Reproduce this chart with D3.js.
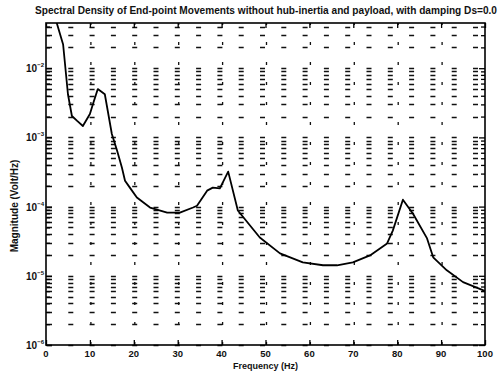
<!DOCTYPE html>
<html>
<head>
<meta charset="utf-8">
<script src="https://cdn.jsdelivr.net/npm/d3@7"></script>
<style>
  html, body { margin: 0; padding: 0; background: #fff; }
  svg { display: block; }
  text { font-family: "Liberation Sans", Arial, sans-serif; fill: #111; }
</style>
</head>
<body>
<svg id="chart" width="502" height="380"></svg>
<script>
// Spectral density of the end-point movement (no hub inertia, no payload, Ds = 0.0)
const freq = [1.5, 2.5, 3.9, 5.0, 5.9, 7.1, 8.4, 10.0, 10.7, 11.8, 13.4, 15.0, 16.2, 17.3,
  18.0, 19.1, 20.7, 23.7, 27.6, 30.5, 33.5, 34.4, 36.7, 38.0, 39.6, 41.5, 43.7, 48.7,
  53.3, 58.5, 63.1, 66.3, 69.9, 73.8, 77.7, 79.0, 81.3, 83.6, 86.8, 88.2, 91.3, 95.0,
  99.5, 100];
const magnitude = [6.0e-2, 4.4e-2, 2.2e-2, 4.2e-3, 2.04e-3, 1.73e-3, 1.46e-3, 2.18e-3,
  3.03e-3, 4.99e-3, 4.2e-3, 1.12e-3, 6.4e-4, 3.64e-4, 2.37e-4, 1.88e-4, 1.35e-4, 9.7e-5,
  8.2e-5, 8.2e-5, 9.7e-5, 1.03e-4, 1.70e-4, 1.88e-4, 1.83e-4, 3.2e-4, 8.8e-5, 3.58e-5,
  2.11e-5, 1.56e-5, 1.42e-5, 1.42e-5, 1.56e-5, 1.97e-5, 2.94e-5, 4.5e-5, 1.26e-4,
  7.9e-5, 3.47e-5, 1.85e-5, 1.2e-5, 8.1e-6, 6.2e-6, 6.0e-6];

const xTicks = [0, 10, 20, 30, 40, 50, 60, 70, 80, 90, 100];
const yDecadeExponents = [-6, -5, -4, -3, -2];
const yLimits = [1e-6, 4.5e-2];
const xLimits = [0, 100];

const titleText = "Spectral Density of End-point Movements without hub-inertia and payload, with damping Ds=0.0";
const xLabel = "Frequency (Hz)";
const yLabel = "Magnitude (Volt/Hz)";

const svg = d3.select("#chart");
const plotL = 46, plotR = 485, plotT = 23, plotB = 345;

const x = d3.scaleLinear().domain(xLimits).range([plotL, plotR]);
const y = d3.scaleLog().domain(yLimits).range([plotB, plotT]);

// every major and minor log tick inside the axis limits
const yAll = [];
yDecadeExponents.forEach(e => {
  for (let m = 1; m <= 9; m++) {
    const v = m * Math.pow(10, e);
    if (v >= yLimits[0] * 0.999 && v <= yLimits[1]) yAll.push(v);
  }
});
const yMajor = yDecadeExponents.map(e => Math.pow(10, e));
const yMinor = yAll.filter(v => !yMajor.some(m => Math.abs(m - v) / m < 1e-9));

// dotted grid: horizontal at every log tick, vertical at x ticks
const grid = svg.append("g").attr("stroke", "#111").attr("fill", "none");
grid.selectAll("line.h").data(yAll).join("line")
  .attr("class", "h")
  .attr("x1", plotL + 1).attr("x2", plotR)
  .attr("y1", d => Math.round(y(d)) + 0.5).attr("y2", d => Math.round(y(d)) + 0.5)
  .attr("stroke-width", 1.6)
  .attr("stroke-dasharray", "5,16.3");
grid.selectAll("line.v").data(xTicks.slice(1, -1)).join("line")
  .attr("class", "v")
  .attr("x1", d => x(d) + 1).attr("x2", d => x(d) + 1)
  .attr("y1", plotB).attr("y2", plotT)
  .attr("stroke-width", 1.3)
  .attr("stroke-dasharray", "3,17");

// spectrum curve, clipped to the plot box
svg.append("clipPath").attr("id", "plotClip")
  .append("rect").attr("x", plotL).attr("y", plotT).attr("width", plotR - plotL).attr("height", plotB - plotT);
const line = d3.line().x((d, i) => x(freq[i])).y(d => y(d));
svg.append("path")
  .attr("clip-path", "url(#plotClip)")
  .attr("d", line(magnitude))
  .attr("fill", "none")
  .attr("stroke", "#000")
  .attr("stroke-width", 1.8)
  .attr("stroke-linejoin", "round");

// axes with inward ticks
const axisStyle = g => {
  g.select(".domain").remove();
  g.selectAll(".tick line").attr("stroke", "#000").attr("stroke-width", 1.3);
  g.selectAll(".tick text").remove();
};
svg.append("g").attr("transform", `translate(0,${plotB})`)
  .call(d3.axisBottom(x).tickValues(xTicks).tickSize(-5)).call(axisStyle);
svg.append("g").attr("transform", `translate(0,${plotT})`)
  .call(d3.axisTop(x).tickValues(xTicks).tickSize(-5)).call(axisStyle);
svg.append("g").attr("transform", `translate(${plotL},0)`)
  .call(d3.axisLeft(y).tickValues(yMajor).tickSize(-6)).call(axisStyle);
svg.append("g").attr("transform", `translate(${plotL},0)`)
  .call(d3.axisLeft(y).tickValues(yMinor).tickSize(-4)).call(axisStyle);
svg.append("g").attr("transform", `translate(${plotR},0)`)
  .call(d3.axisRight(y).tickValues(yMajor).tickSize(-6)).call(axisStyle);
svg.append("g").attr("transform", `translate(${plotR},0)`)
  .call(d3.axisRight(y).tickValues(yMinor).tickSize(-4)).call(axisStyle);

// plot box
svg.append("rect")
  .attr("x", plotL).attr("y", plotT).attr("width", plotR - plotL).attr("height", plotB - plotT)
  .attr("fill", "none").attr("stroke", "#000").attr("stroke-width", 1.6);

// x tick labels
svg.append("g").selectAll("text").data(xTicks).join("text")
  .attr("x", d => x(d)).attr("y", plotB + 12)
  .attr("text-anchor", "middle")
  .attr("font-size", 9.5).attr("font-weight", "bold")
  .text(d => d);

// y tick labels: 10 with a raised exponent
const yl = svg.append("g").selectAll("text").data(yDecadeExponents).join("text")
  .attr("x", plotL - 20).attr("y", e => y(Math.pow(10, e)) + 4)
  .attr("font-size", 10).attr("font-weight", "bold");
yl.append("tspan").text("10");
yl.append("tspan").attr("dy", -5).attr("font-size", 6).text(e => "\u2212" + Math.abs(e));

// titles
svg.append("text")
  .attr("x", 35).attr("y", 14)
  .attr("font-size", 10).attr("font-weight", "bold")
  .attr("textLength", 462).attr("lengthAdjust", "spacingAndGlyphs")
  .text(titleText);
svg.append("text")
  .attr("x", (plotL + plotR) / 2).attr("y", plotB + 24)
  .attr("text-anchor", "middle")
  .attr("font-size", 9).attr("font-weight", "bold")
  .text(xLabel);
svg.append("text")
  .attr("transform", `translate(18,${(plotT + plotB) / 2 + 22}) rotate(-90)`)
  .attr("text-anchor", "middle")
  .attr("font-size", 10).attr("font-weight", "bold")
  .text(yLabel);
</script>
</body>
</html>
